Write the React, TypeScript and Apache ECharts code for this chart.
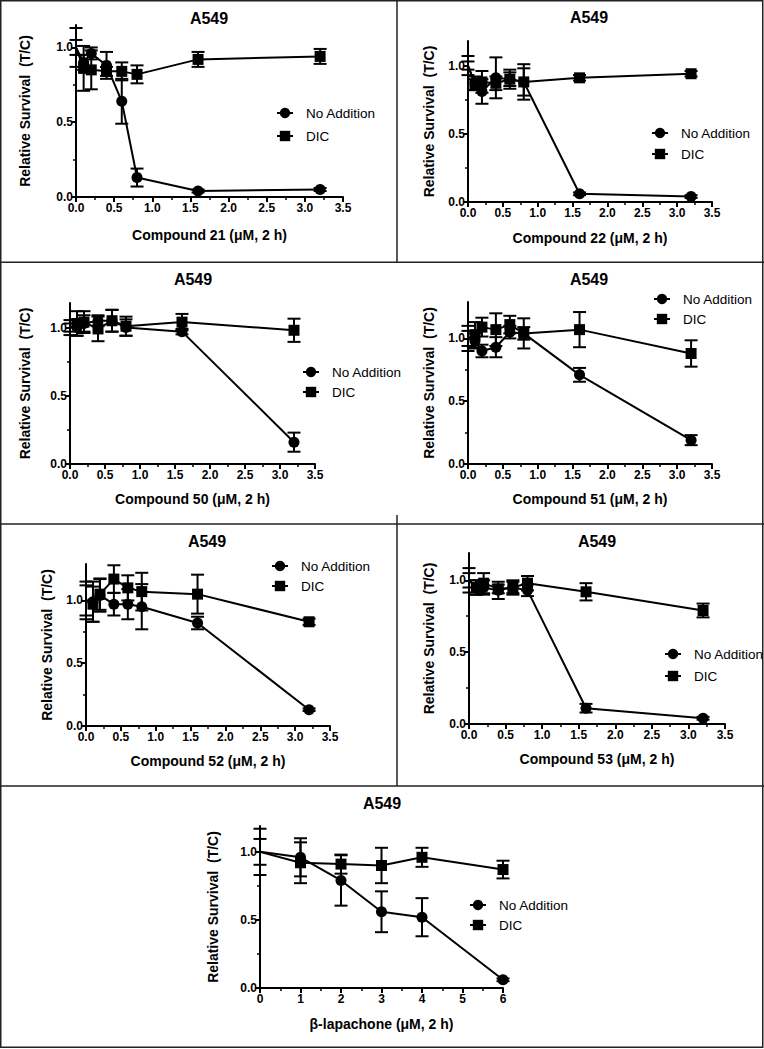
import React, { useEffect, useRef } from 'react';
import * as echarts from 'echarts';

// ---------- data ----------
const conc = [0, 0.1, 0.2, 0.4, 0.6, 0.8, 1.6, 3.2];
const betaConc = [0, 1, 2, 3, 4, 6];
const concTickLabels = ['0.0', '0.5', '1.0', '1.5', '2.0', '2.5', '3.0', '3.5'];
const betaTickLabels = ['0', '1', '2', '3', '4', '5', '6'];
const yTickValues = [0, 0.5, 1.0];
const yTickLabels = ['0.0', '0.5', '1.0'];
const yMinorValues = [0.25, 0.75];
const seriesNames = ['No Addition', 'DIC'];
const panelTitle = 'A549';
const yAxisTitle = 'Relative Survival  (T/C)';

const c21NoAdd = [1.0, 0.90, 0.96, 0.88, 0.64, 0.13, 0.04, 0.05];
const c21NoAddErr = [0.13, 0.05, 0.04, 0.09, 0.15, 0.06, 0.01, 0.01];
const c21Dic = [1.0, 0.86, 0.85, 0.84, 0.84, 0.82, 0.92, 0.94];
const c21DicErr = [0.05, 0.15, 0.13, 0.03, 0.06, 0.06, 0.05, 0.05];

const c22NoAdd = [1.0, 0.87, 0.81, 0.91, 0.90, 0.88, 0.06, 0.04];
const c22NoAddErr = [0.07, 0.05, 0.09, 0.15, 0.07, 0.10, 0.01, 0.01];
const c22Dic = [1.0, 0.86, 0.88, 0.87, 0.90, 0.88, 0.91, 0.94];
const c22DicErr = [0.03, 0.04, 0.08, 0.05, 0.05, 0.13, 0.02, 0.02];

const c50NoAdd = [1.0, 1.00, 1.03, 1.05, 1.05, 1.00, 0.97, 0.16];
const c50NoAddErr = [0.055, 0.06, 0.06, 0.04, 0.08, 0.06, 0.02, 0.07];
const c50Dic = [1.0, 1.03, 1.04, 0.99, 1.05, 1.01, 1.04, 0.98];
const c50DicErr = [0.03, 0.09, 0.08, 0.09, 0.08, 0.07, 0.06, 0.085];

const c51NoAdd = [1.0, 0.98, 0.90, 0.93, 1.05, 1.04, 0.71, 0.19];
const c51NoAddErr = [0.10, 0.06, 0.05, 0.08, 0.05, 0.05, 0.055, 0.04];
const c51Dic = [1.0, 1.03, 1.09, 1.07, 1.11, 1.04, 1.07, 0.88];
const c51DicErr = [0.06, 0.10, 0.075, 0.13, 0.07, 0.12, 0.14, 0.105];

const c52NoAdd = [1.0, 0.99, 1.04, 0.97, 0.97, 0.95, 0.82, 0.13];
const c52NoAddErr = [0.15, 0.16, 0.13, 0.09, 0.12, 0.18, 0.05, 0.01];
const c52Dic = [1.0, 0.97, 1.05, 1.17, 1.10, 1.07, 1.05, 0.83];
const c52DicErr = [0.12, 0.14, 0.125, 0.11, 0.10, 0.15, 0.155, 0.025];

const c53NoAdd = [1.0, 0.95, 0.95, 0.93, 0.95, 0.93, 0.11, 0.04];
const c53NoAddErr = [0.085, 0.05, 0.05, 0.06, 0.05, 0.04, 0.03, 0.01];
const c53Dic = [1.0, 0.95, 0.98, 0.94, 0.95, 0.98, 0.92, 0.79];
const c53DicErr = [0.05, 0.05, 0.07, 0.03, 0.04, 0.05, 0.06, 0.048];

const betaNoAdd = [1.0, 0.96, 0.79, 0.56, 0.52, 0.06];
const betaNoAddErr = [0.17, 0.14, 0.185, 0.15, 0.14, 0.01];
const betaDic = [1.0, 0.92, 0.91, 0.90, 0.96, 0.87];
const betaDicErr = [0.095, 0.15, 0.07, 0.13, 0.07, 0.065];

// ---------- panels (data refs + layout) ----------
const panels = [
  { xName: 'Compound 21 (μM, 2 h)', x: conc, ticks: concTickLabels, step: 0.5, na: c21NoAdd, naE: c21NoAddErr, dic: c21Dic, dicE: c21DicErr,
    L: { left: 76, right: 343, top: 25, bottom: 197, yMax: 1.15, tx: 209, ty: 18, xGap: 31, yGap: 44, lgL: 276, lgT: 106, lgGap: 9 } },
  { xName: 'Compound 22 (μM, 2 h)', x: conc, ticks: concTickLabels, step: 0.5, na: c22NoAdd, naE: c22NoAddErr, dic: c22Dic, dicE: c22DicErr,
    L: { left: 468, right: 712, top: 41, bottom: 202, yMax: 1.18, tx: 589, ty: 17, xGap: 29, yGap: 32, lgL: 651, lgT: 126, lgGap: 7 } },
  { xName: 'Compound 50 (μM, 2 h)', x: conc, ticks: concTickLabels, step: 0.5, na: c50NoAdd, naE: c50NoAddErr, dic: c50Dic, dicE: c50DicErr,
    L: { left: 70, right: 315, top: 303, bottom: 464, yMax: 1.18, tx: 193, ty: 279, xGap: 28, yGap: 38, lgL: 302, lgT: 365, lgGap: 6 } },
  { xName: 'Compound 51 (μM, 2 h)', x: conc, ticks: concTickLabels, step: 0.5, na: c51NoAdd, naE: c51NoAddErr, dic: c51Dic, dicE: c51DicErr,
    L: { left: 468, right: 712, top: 302, bottom: 464, yMax: 1.29, tx: 589, ty: 279, xGap: 28, yGap: 32, lgL: 653, lgT: 292, lgGap: 6 } },
  { xName: 'Compound 52 (μM, 2 h)', x: conc, ticks: concTickLabels, step: 0.5, na: c52NoAdd, naE: c52NoAddErr, dic: c52Dic, dicE: c52DicErr,
    L: { left: 86, right: 330, top: 564, bottom: 726, yMax: 1.29, tx: 207, ty: 541, xGap: 28, yGap: 32, lgL: 271, lgT: 559, lgGap: 6 } },
  { xName: 'Compound 53 (μM, 2 h)', x: conc, ticks: concTickLabels, step: 0.5, na: c53NoAdd, naE: c53NoAddErr, dic: c53Dic, dicE: c53DicErr,
    L: { left: 469, right: 725, top: 553, bottom: 724, yMax: 1.19, tx: 597, ty: 541, xGap: 28, yGap: 33, lgL: 664, lgT: 647, lgGap: 8 } },
  { xName: 'β-lapachone (μM, 2 h)', x: betaConc, ticks: betaTickLabels, step: 1, na: betaNoAdd, naE: betaNoAddErr, dic: betaDic, dicE: betaDicErr,
    L: { left: 260, right: 503, top: 826, bottom: 988, yMax: 1.19, tx: 382, ty: 803, xGap: 29, yGap: 40, lgL: 469, lgT: 898, lgGap: 6 } },
];

const FONT = '"Liberation Sans", Arial, sans-serif';
const INK = '#000';

function errRender(params: any, api: any) {
  const xv = api.value(0);
  const lo = api.coord([xv, api.value(1)]);
  const hi = api.coord([xv, api.value(2)]);
  const style = { stroke: INK, lineWidth: 2 };
  const w = 6.5;
  return {
    type: 'group',
    children: [
      { type: 'line', shape: { x1: lo[0], y1: lo[1], x2: hi[0], y2: hi[1] }, style },
      { type: 'line', shape: { x1: lo[0] - w, y1: lo[1], x2: lo[0] + w, y2: lo[1] }, style },
      { type: 'line', shape: { x1: hi[0] - w, y1: hi[1], x2: hi[0] + w, y2: hi[1] }, style },
    ],
  };
}

function buildOption() {
  const grid: any[] = [];
  const xAxis: any[] = [];
  const yAxis: any[] = [];
  const series: any[] = [];
  const legend: any[] = [];
  const graphic: any[] = [];

  panels.forEach((p, i) => {
    const L = p.L;
    const xMax = parseFloat(p.ticks[p.ticks.length - 1]);
    grid.push({ left: L.left, top: L.top, width: L.right - L.left, height: L.bottom - L.top, containLabel: false });
    xAxis.push({
      gridIndex: i, type: 'value', min: 0, max: xMax, interval: p.step,
      axisLine: { onZero: false, lineStyle: { color: INK, width: 2 } },
      axisTick: { length: 5, lineStyle: { color: INK, width: 2 } },
      minorTick: { show: true, splitNumber: 2, length: 3, lineStyle: { color: INK, width: 1.5 } },
      splitLine: { show: false }, minorSplitLine: { show: false },
      axisLabel: {
        formatter: (v: number) => p.ticks[Math.round(v / p.step)] ?? '',
        fontSize: 12, fontWeight: 'bold', color: INK, fontFamily: FONT, margin: 5,
      },
      name: p.xName, nameLocation: 'middle', nameGap: L.xGap,
      nameTextStyle: { fontSize: 14, fontWeight: 'bold', color: INK, fontFamily: FONT },
    });
    yAxis.push({
      gridIndex: i, type: 'value', min: 0, max: L.yMax, position: 'left',
      axisLine: { show: true, onZero: false, lineStyle: { color: INK, width: 2 } },
      axisTick: { show: true, customValues: yTickValues, length: 5, lineStyle: { color: INK, width: 2 } },
      axisLabel: {
        customValues: yTickValues,
        formatter: (v: number) => {
          const k = yTickValues.findIndex((t) => Math.abs(t - v) < 1e-6);
          return k >= 0 ? yTickLabels[k] : '';
        },
        fontSize: 12, fontWeight: 'bold', color: INK, fontFamily: FONT, margin: 3,
      },
      splitLine: { show: false },
      name: yAxisTitle, nameLocation: 'middle', nameGap: L.yGap,
      nameTextStyle: { fontSize: 14, fontWeight: 'bold', color: INK, fontFamily: FONT },
    });
    yAxis.push({
      gridIndex: i, type: 'value', min: 0, max: L.yMax, position: 'left',
      axisLine: { show: false },
      axisTick: { show: true, customValues: yMinorValues, length: 3, lineStyle: { color: INK, width: 1.5 } },
      axisLabel: { show: false },
      splitLine: { show: false },
    });

    const groups = [
      { name: seriesNames[0], y: p.na, e: p.naE, symbol: 'circle', size: 11 },
      { name: seriesNames[1], y: p.dic, e: p.dicE, symbol: 'rect', size: 11 },
    ];
    groups.forEach((g) => {
      series.push({
        type: 'custom', name: g.name + ' SEM', xAxisIndex: i, yAxisIndex: 2 * i,
        renderItem: errRender, z: 2, silent: true,
        encode: { x: 0, y: [1, 2] },
        data: p.x.map((xv, k) => [xv, g.y[k] - g.e[k], g.y[k] + g.e[k]]),
      });
      series.push({
        type: 'line', name: g.name, xAxisIndex: i, yAxisIndex: 2 * i,
        symbol: g.symbol, symbolSize: g.size, z: 3, clip: false,
        lineStyle: { color: INK, width: 2 }, itemStyle: { color: INK },
        data: p.x.map((xv, k) => (xv === 0 ? { value: [xv, g.y[k]], symbol: 'none' } : [xv, g.y[k]])),
      });
    });

    legend.push({
      left: L.lgL, top: L.lgT, orient: 'vertical', padding: 0, itemGap: L.lgGap,
      itemWidth: 16, itemHeight: 13, selectedMode: false, data: seriesNames,
      textStyle: { fontSize: 13.5, color: INK, fontFamily: FONT, padding: [0, 0, 0, 8], lineHeight: 14 },
    });

    graphic.push({
      type: 'text', x: L.tx, y: L.ty,
      style: {
        text: panelTitle, fontSize: 16, fontWeight: 'bold', fontFamily: FONT, fill: INK,
        textAlign: 'center', textVerticalAlign: 'middle', align: 'center', verticalAlign: 'middle',
      },
    });
  });

  const border = { stroke: '#222', lineWidth: 1.5 };
  graphic.push({ type: 'rect', shape: { x: 0.75, y: 0.75, width: 762, height: 1046.5 }, style: { fill: 'none', ...border } });
  [262.3, 524, 786].forEach((yy) => graphic.push({ type: 'line', shape: { x1: 0, y1: yy, x2: 764, y2: yy }, style: border }));
  graphic.push({ type: 'line', shape: { x1: 397, y1: 0, x2: 397, y2: 262.3 }, style: border });
  graphic.push({ type: 'line', shape: { x1: 397, y1: 515, x2: 397, y2: 524 }, style: border });
  graphic.push({ type: 'line', shape: { x1: 397, y1: 524, x2: 397, y2: 786 }, style: border });

  return {
    animation: false,
    backgroundColor: '#fff',
    textStyle: { fontFamily: FONT },
    grid, xAxis, yAxis, series, legend, graphic,
  };
}

export default function App() {
  const ref = useRef<HTMLDivElement>(null);
  useEffect(() => {
    if (!ref.current) return;
    const chart = echarts.init(ref.current, undefined, { renderer: 'svg' });
    chart.setOption(buildOption() as any);
    return () => chart.dispose();
  }, []);
  return <div ref={ref} style={{ position: 'absolute', left: 0, top: 0, width: 764, height: 1049 }} />;
}
